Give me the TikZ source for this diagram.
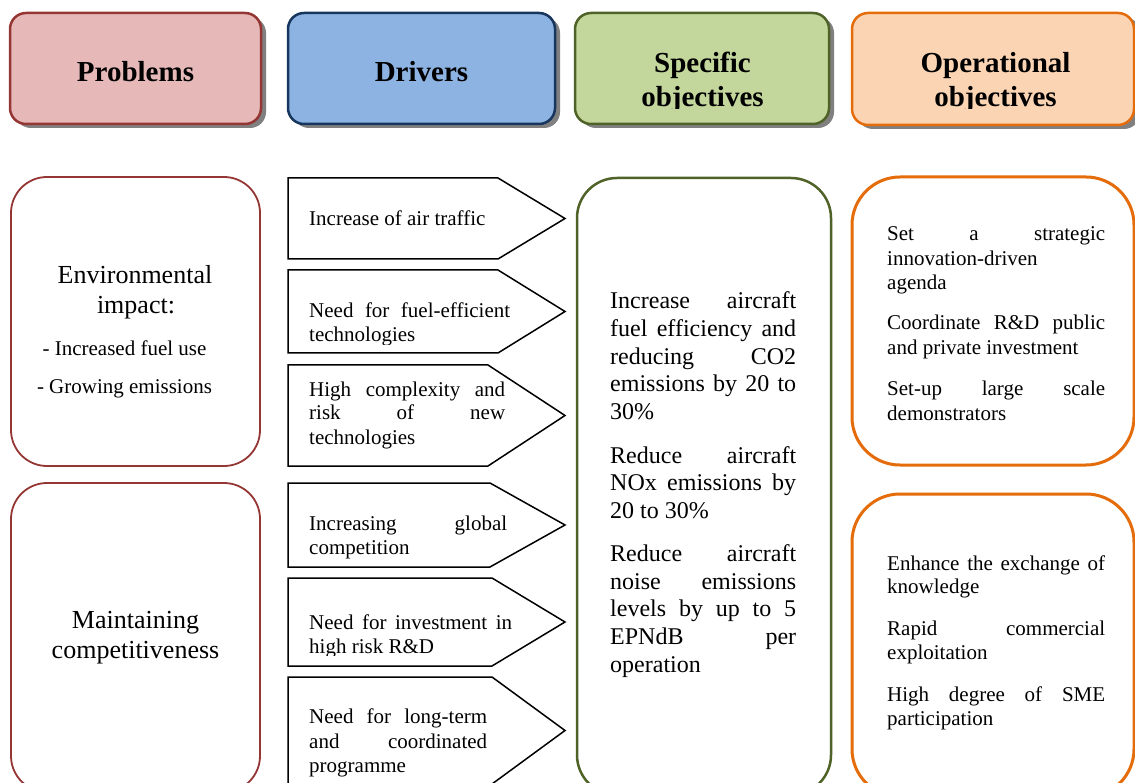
\documentclass[tikz,border=0pt]{standalone}
\usepackage{fontspec}
\setmainfont{Liberation Serif}
\definecolor{pStroke}{HTML}{943634}
\definecolor{pFill}{HTML}{E6B9B8}
\definecolor{dStroke}{HTML}{17365D}
\definecolor{dFill}{HTML}{8DB3E2}
\definecolor{sStroke}{HTML}{4F6228}
\definecolor{sFill}{HTML}{C3D69B}
\definecolor{oStroke}{HTML}{E46C0A}
\definecolor{oFill}{HTML}{FBD4B4}
\newcommand{\tline}[1]{\hbox{#1}}
\newcommand{\jline}[2]{\hbox{\makebox[#1][s]{#2}}}
\newcommand{\hdrfont}{\fontsize{29}{34}\selectfont\bfseries}
\newcommand{\envfont}{\fontsize{26}{30}\selectfont}
\newcommand{\drvfont}{\fontsize{21}{24}\selectfont}
\newcommand{\drvfontb}{\fontsize{21}{24.5}\selectfont}
\newcommand{\spfont}{\fontsize{24}{27.6}\selectfont}
\newcommand{\opfont}{\fontsize{21}{23.7}\selectfont}
\newcommand{\opfonta}{\fontsize{21}{24.6}\selectfont}
\tikzset{
  hdrbox/.style={rounded corners=16pt, line width=2.5pt},
  hdrshadow/.style={fill=black!50, rounded corners=16pt},
  pbody/.style={draw=pStroke, line width=1.8pt, rounded corners=36pt},
  sbody/.style={draw=sStroke, line width=2.5pt, rounded corners=40pt},
  obody/.style={draw=oStroke, line width=3pt, rounded corners=48pt},
  arr/.style={draw=black, line width=1.5pt, line join=miter},
  txt/.style={anchor=base west, inner sep=0pt},
  ctxt/.style={anchor=base, inner sep=0pt},
}
\begin{document}
\begin{tikzpicture}[x=1pt,y=-1pt]
\useasboundingbox (0,0) rectangle (1135,783);
\clip (0,0) rectangle (1135,783);
\fill[white] (0,0) rectangle (1135,783);
% ---------- header shadows ----------
\fill[hdrshadow] (15,17) rectangle (266,128);
\fill[hdrshadow] (293,17) rectangle (560,128);
\fill[hdrshadow] (580,17) rectangle (834,128);
\fill[hdrshadow] (857,17) rectangle (1140,129);
% ---------- headers ----------
\filldraw[hdrbox, draw=pStroke, fill=pFill] (10,13) rectangle (261,124);
\filldraw[hdrbox, draw=dStroke, fill=dFill] (288,13) rectangle (555,124);
\filldraw[hdrbox, draw=sStroke, fill=sFill] (575,13) rectangle (829,124);
\filldraw[hdrbox, draw=oStroke, fill=oFill] (852,13) rectangle (1134,125);
\node[ctxt, font=\hdrfont] (hP) at (135.5,82) {Problems};
\node[ctxt, font=\hdrfont] (hD) at (421.5,82) {Drivers};
\begin{scope}
\clip (560,20) rectangle (1135,108.5);
\node[ctxt, font=\hdrfont] (hS1) at (702.5,73) {Specific};
\node[ctxt, font=\hdrfont] (hS2) at (702.5,107) {objectives};
\node[ctxt, font=\hdrfont] (hO1) at (995.5,73) {Operational};
\node[ctxt, font=\hdrfont] (hO2) at (995.5,107) {objectives};
\end{scope}
% ---------- problems bodies ----------
\draw[pbody] (11,177) rectangle (260,466);
\draw[pbody] (11,483) rectangle (260,792);
\node[ctxt, font=\envfont] (env1) at (135,284) {Environmental};
\node[ctxt, font=\envfont] (env2) at (136,314) {impact:};
\node[ctxt, font=\drvfont] (env3) at (124.5,356) {- Increased fuel use};
\node[ctxt, font=\drvfont] (env4) at (124.5,394) {- Growing emissions};
\node[ctxt, font=\envfont] (mc1) at (135.5,628) {Maintaining};
\node[ctxt, font=\envfont] (mc2) at (135.5,658) {competitiveness};
% ---------- drivers arrows ----------
\draw[arr] (288,178) -- (498,178) -- (565,218.5) -- (498,259) -- (288,259) -- cycle;
\draw[arr] (288,270) -- (498,270) -- (565,311.5) -- (498,353) -- (288,353) -- cycle;
\draw[arr] (288,365) -- (488,365) -- (565,415.5) -- (488,466) -- (288,466) -- cycle;
\draw[arr] (288,483) -- (490,483) -- (565,525) -- (490,567) -- (288,567) -- cycle;
\draw[arr] (288,578) -- (492,578) -- (565,622) -- (492,666) -- (288,666) -- cycle;
\draw[arr] (288,677) -- (492,677) -- (565,730.5) -- (492,784) -- (288,784) -- cycle;
\node[txt, font=\drvfont] (d1) at (309,226) {Increase of air traffic};
\begin{scope}
\clip (289,271) rectangle (540,344.5);
\node[txt, font=\drvfont] (d2) at (309,318) {\vtop{\jline{201pt}{Need for fuel-efficient}\tline{technologies}}};
\end{scope}
\node[txt, font=\drvfont] (d3) at (309,396) {\vtop{\jline{196pt}{High complexity and}\jline{196pt}{risk of new}\tline{technologies}}};
\node[txt, font=\drvfont] (d4) at (309,530) {\vtop{\jline{198pt}{Increasing global}\tline{competition}}};
\begin{scope}
\clip (289,579) rectangle (540,655.5);
\node[txt, font=\drvfont] (d5) at (309,629) {\vtop{\jline{203pt}{Need for investment in}\tline{high risk R\&D}}};
\end{scope}
\node[txt, font=\drvfontb] (d6) at (309,723.5) {\vtop{\jline{178pt}{Need for long-term}\jline{178pt}{and coordinated}\tline{programme}}};
% ---------- specific objectives body ----------
\draw[sbody] (577,178) rectangle (831,795);
\node[txt, font=\spfont] (so) at (610,309) {\vtop{%
\jline{186pt}{Increase aircraft}
\jline{186pt}{fuel efficiency and}
\jline{186pt}{reducing CO2}
\jline{186pt}{emissions by 20 to}
\tline{30\%}
\vskip16.4pt
\jline{186pt}{Reduce aircraft}
\jline{186pt}{NOx emissions by}
\tline{20 to 30\%}
\vskip15.5pt
\jline{186pt}{Reduce aircraft}
\jline{186pt}{noise emissions}
\jline{186pt}{levels by up to 5}
\jline{186pt}{EPNdB per}
\tline{operation}}};
% ---------- operational bodies ----------
\draw[obody] (852,177) rectangle (1134,465);
\draw[obody] (852,494) rectangle (1134,797);
\node[txt, font=\opfonta] (op1) at (887,240.5) {\vtop{%
\jline{218pt}{Set a strategic}
\tline{innovation-driven}
\tline{agenda}
\vskip15.5pt
\jline{218pt}{Coordinate R\&D public}
\tline{and private investment}
\vskip16.5pt
\jline{218pt}{Set-up large scale}
\tline{demonstrators}}};
\node[txt, font=\opfont] (op2) at (887,570) {\vtop{%
\jline{218pt}{Enhance the exchange of}
\tline{knowledge}
\vskip18.5pt
\jline{218pt}{Rapid commercial}
\tline{exploitation}
\vskip18.5pt
\jline{218pt}{High degree of SME}
\tline{participation}}};
\end{tikzpicture}
\end{document}
